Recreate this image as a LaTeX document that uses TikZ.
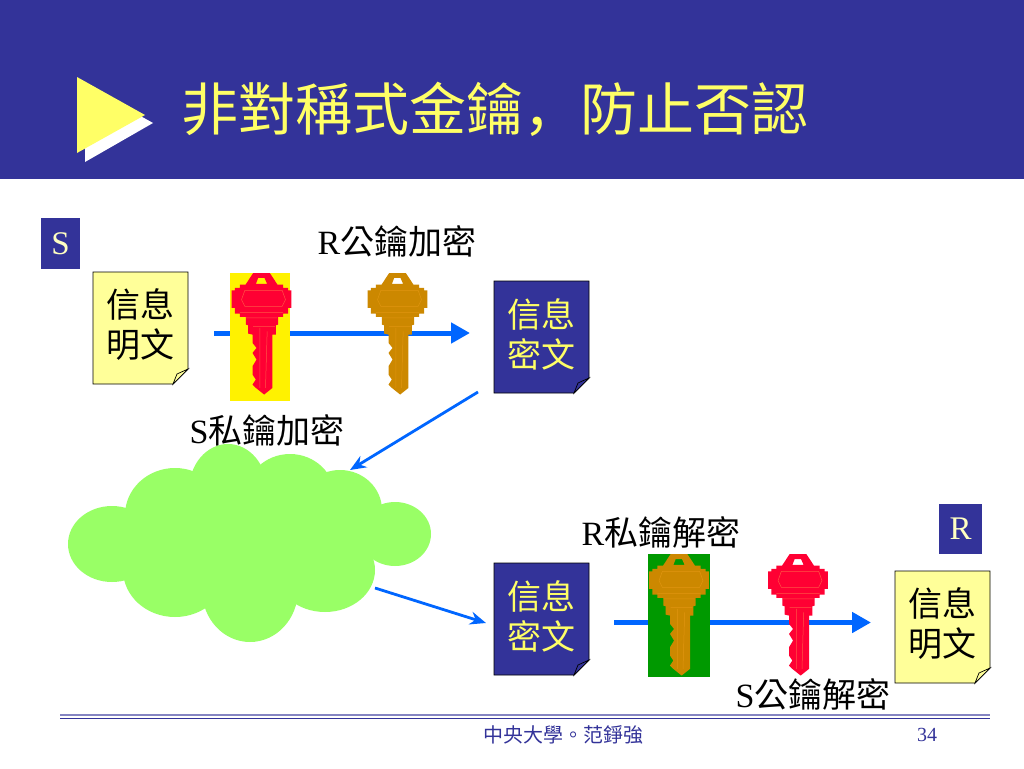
\documentclass[tikz,border=0pt]{standalone}
\usepackage{fontspec}
\setmainfont{Liberation Serif}
\newfontfamily\cjk{Noto Sans CJK TC}
\newfontfamily\cjksc{Noto Sans CJK SC}
\usetikzlibrary{arrows.meta}
\definecolor{navy}{HTML}{333399}
\definecolor{noteyellow}{HTML}{FFFF99}
\definecolor{titleyellow}{HTML}{FFFF66}
\definecolor{cloudgreen}{HTML}{99FF66}
\definecolor{linkblue}{HTML}{0066FF}
\definecolor{keyred}{HTML}{FF0033}
\definecolor{keyredline}{HTML}{FF5544}
\definecolor{keygold}{HTML}{CC8800}
\definecolor{keygoldline}{HTML}{E09510}
\definecolor{keygreen}{HTML}{009900}
\tikzset{
  thickarrow/.style={draw=linkblue,line width=5pt,-{Triangle[length=19pt,width=20pt]}},
  thinarrow/.style={draw=linkblue,line width=2.8pt,-{Stealth[length=16pt,width=13pt]}},
  label/.style={font=\fontsize{34}{38}\selectfont,text=black,inner sep=0pt},
  notetext/.style={font=\cjk\fontsize{34}{40}\selectfont,align=center,inner sep=0pt},
  boxlabel/.style={fill=navy,text=noteyellow!60!white,font=\fontsize{33}{36}\selectfont,inner sep=0pt},
}
% x, y, fill, text colour, name, text
\newcommand\docnote[6]{%
  \fill[#3,draw=black,line width=.7pt] (#1,#2) -- ++(95,0) -- ++(0,97) -- ++(-15,15) -- ++(-80,0) -- cycle;
  \fill[#3,draw=black,line width=.7pt] (#1+80,#2+112) -- (#1+84,#2+102) -- (#1+95,#2+97) -- cycle;
  \node[notetext,text=#4] (#5) at (#1+47.5,#2+53) {#6};
}
% centre x, top y, fill, line colour
\newcommand\keyshape[4]{%
  \begin{scope}[shift={(#1,#2)},x=0.333pt,y=-0.333pt,line join=miter]
    \fill[#3,even odd rule]
      (-25,0) -- (25,0) -- (48,35) -- (65,35) -- (65,45) -- (80,45) -- (80,52) -- (90,52) -- (90,105) -- (80,105) -- (80,122)
      -- (65,122) -- (65,132) -- (50,132) -- (50,155) -- (43,157) -- (43,185) -- (33,185) -- (33,345) -- (8,365) -- (-17,345) -- (-27,335)
      -- (-17,320) -- (-27,305) -- (-27,280) -- (-15,260) -- (-27,240) -- (-15,225) -- (-27,210) -- (-27,185)
      -- (-40,182) -- (-40,157) -- (-47,155) -- (-47,132) -- (-65,132) -- (-65,122) -- (-80,122) -- (-80,105) -- (-90,105) -- (-90,52)
      -- (-80,52) -- (-80,45) -- (-65,45) -- (-65,35) -- (-48,35) -- cycle
      (-17,33) -- (17,33) -- (9,15) -- (-10,15) -- cycle;
    \draw[#4,line width=.5pt] (-50,52) -- (62,52) -- (72,80) -- (62,100) -- (-50,100) -- (-60,80) -- cycle;
    \draw[#4,line width=.5pt] (-65,118) -- (65,118) (-47,135) -- (47,135) (-5,165) -- (-5,345) (17,175) -- (12,345) (-25,160) -- (40,160);
  \end{scope}
}
\begin{document}
\begin{tikzpicture}[x=1pt,y=-1pt]
\useasboundingbox (0,0) rectangle (1024,768);
\fill[white] (0,0) rectangle (1024,768);
% header
\fill[navy] (0,0) rectangle (1024,179);
\fill[white] (85,85) -- (153,123) -- (85,162) -- cycle;
\fill[titleyellow] (77,77) -- (145,115) -- (77,153) -- cycle;
\node[font=\cjk\fontsize{57}{60}\selectfont,text=titleyellow,inner sep=0pt,anchor=west] (title) at (181,109) {非對稱式金鑰{\cjksc ，}防止否認};
% footer rule
\draw[navy!60!white,line width=1.2pt] (60,715) -- (990,715);
\draw[navy,line width=1.4pt] (60,718.3) -- (990,718.3);
\node[font=\cjk\fontsize{20}{24}\selectfont,text=navy,inner sep=0pt] (foot) at (563.5,735) {中央大學。范錚強};
\node[font=\fontsize{20}{24}\selectfont,text=navy,inner sep=0pt] (page) at (927,735) {34};
% S and R boxes
\node[boxlabel,minimum width=39pt,minimum height=51pt] (sbox) at (60.5,243.5) {S};
\node[boxlabel,minimum width=43pt,minimum height=50pt] (rbox) at (960.5,529) {R};
% labels
\node[label] (l1) at (397,241) {R{\cjk 公鑰加密}};
\node[label] (l2) at (267,430) {S{\cjk 私鑰加密}};
\node[label] (l3) at (661,532) {R{\cjk 私鑰解密}};
\node[label] (l4) at (813,694) {S{\cjk 公鑰解密}};
% documents
\docnote{93}{272}{noteyellow}{black}{plainS}{信息\\明文}
\docnote{494}{281}{navy}{titleyellow}{cipherS}{信息\\密文}
\docnote{494}{563}{navy}{titleyellow}{cipherR}{信息\\密文}
\docnote{895}{571}{noteyellow}{black}{plainR}{信息\\明文}
% cloud
\begin{scope}[cloudgreen]
\fill (112,544) ellipse [x radius=44,y radius=38];
\fill (175,515) ellipse [x radius=50,y radius=47];
\fill (228,490) ellipse [x radius=39,y radius=46];
\fill (290,497) ellipse [x radius=45,y radius=43];
\fill (340,510) ellipse [x radius=42,y radius=40];
\fill (395,534) ellipse [x radius=36,y radius=32];
\fill (175,570) ellipse [x radius=52,y radius=47];
\fill (250,590) ellipse [x radius=48,y radius=52];
\fill (325,570) ellipse [x radius=50,y radius=42];
\fill (250,530) ellipse [x radius=120,y radius=60];
\end{scope}
\coordinate (cloudTop) at (350,470);
\coordinate (cloudRight) at (375,588);
% arrows
\coordinate (a1) at (214,333);
\coordinate (a1end) at (470,333);
\coordinate (a2) at (614,622.5);
\coordinate (a2end) at (871,622.5);
\coordinate (cipherOut) at (478,392);
\coordinate (cipherIn) at (486,623);
\draw[thickarrow] (a1) -- (a1end);
\draw[thickarrow] (a2) -- (a2end);
\draw[thinarrow] (cipherOut) -- (cloudTop);
\draw[thinarrow] (cloudRight) -- (cipherIn);
% keys
\fill[yellow] (230,273) rectangle (290,401);
\fill[keygreen] (648,554) rectangle (710,677);
\keyshape{261.5}{273}{keyred}{keyredline}
\keyshape{397.5}{273}{keygold}{keygoldline}
\keyshape{679}{554}{keygold}{keygoldline}
\keyshape{798}{554}{keyred}{keyredline}
\end{tikzpicture}
\end{document}
